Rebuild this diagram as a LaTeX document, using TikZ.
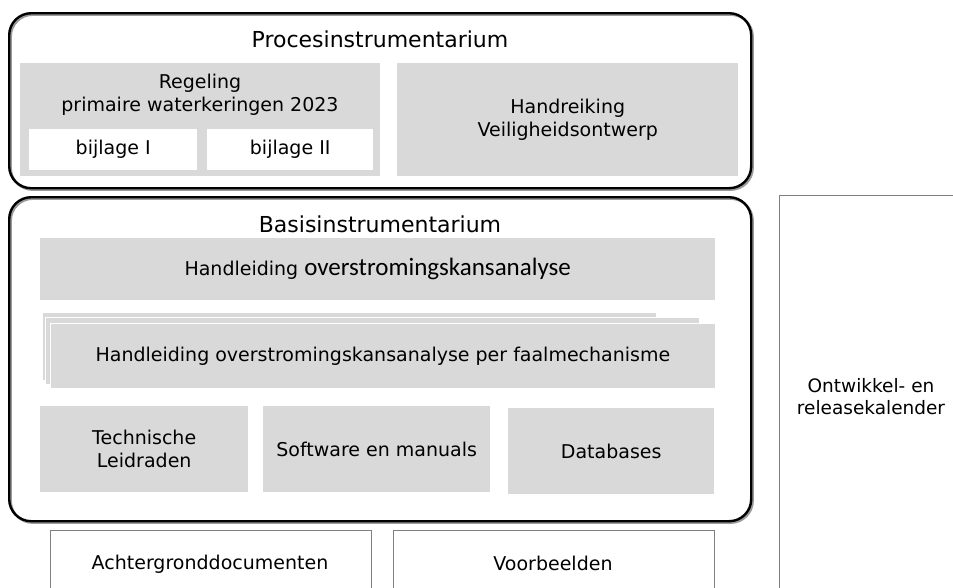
\documentclass[tikz,border=0pt]{standalone}
\usepackage{fontspec}
\setmainfont{DejaVu Sans}
\newfontfamily\carl{Carlito}
\definecolor{boxgray}{HTML}{D9D9D9}
\definecolor{linegray}{HTML}{808080}
\definecolor{shadowgray}{HTML}{9A9A9A}
\begin{document}
\begin{tikzpicture}[x=1pt,y=-1pt,
  outer/.style={draw=black, line width=2.4pt, rounded corners=22pt, anchor=north west, inner sep=0pt},
  outershadow/.style={draw=shadowgray, line width=2.4pt, rounded corners=22pt, anchor=north west, inner sep=0pt},
  graybox/.style={fill=boxgray, draw=none, anchor=north west, inner sep=0pt, align=center,
    font=\fontsize{19}{23}\selectfont},
  whitebox/.style={fill=white, draw=none, anchor=north west, inner sep=0pt, align=center,
    font=\fontsize{19}{23}\selectfont},
  thinbox/.style={fill=white, draw=linegray, line width=1.2pt, anchor=north west, inner sep=0pt, align=center,
    font=\fontsize{19}{23}\selectfont},
  title/.style={font=\fontsize{22}{26}\selectfont, anchor=base},
  txt/.style={font=\fontsize{19}{23}\selectfont, anchor=base, align=center}
]
\useasboundingbox (0,0) rectangle (953,587);
\clip (0,0) rectangle (953,587);
\fill[white] (0,0) rectangle (953,587);

% Procesinstrumentarium
\node[outershadow, minimum width=742pt, minimum height=175pt] (procs) at (9.5,13.5) {};
\node[outer, minimum width=742pt, minimum height=175pt] (proc) at (8,12) {};
\node[title] (proct) at (380,47) {Procesinstrumentarium};
\node[graybox, minimum width=360pt, minimum height=113pt] (reg) at (20,63) {};
\node[txt] (regt1) at (200,88) {Regeling};
\node[txt] (regt2) at (200,111) {primaire waterkeringen 2023};
\node[whitebox, minimum width=168pt, minimum height=41pt] (bij1) at (29,129) {bijlage I};
\node[whitebox, minimum width=166pt, minimum height=41pt] (bij2) at (207,129) {bijlage II};
\node[graybox, minimum width=341pt, minimum height=113pt] (hand) at (397,63) {Handreiking\\Veiligheidsontwerp};

% Basisinstrumentarium
\node[outershadow, minimum width=742pt, minimum height=324pt] (basiss) at (9.5,197.5) {};
\node[outer, minimum width=742pt, minimum height=324pt] (basis) at (8,196) {};
\node[title] (basist) at (380,232) {Basisinstrumentarium};
\node[graybox, minimum width=675pt, minimum height=62pt] (hok) at (40,238)
  {Handleiding {\carl\fontsize{25}{27}\selectfont overstromingskansanalyse}};
\node[graybox, minimum width=614pt, minimum height=68pt, draw=white, line width=0.8pt] (st1) at (42,312) {};
\node[graybox, minimum width=654pt, minimum height=67pt, draw=white, line width=0.8pt] (st2) at (45,317) {};
\node[graybox, minimum width=665pt, minimum height=65pt, draw=white, line width=0.8pt] (hokf) at (50,323)
  {Handleiding overstromingskansanalyse per faalmechanisme};
\node[graybox, minimum width=208pt, minimum height=86pt] (tech) at (40,406) {Technische\\Leidraden};
\node[graybox, minimum width=227pt, minimum height=86pt] (soft) at (263,406) {Software en manuals};
\node[graybox, minimum width=206pt, minimum height=86pt] (db) at (508,408) {Databases};

% Bottom boxes
\node[thinbox, minimum width=321pt, minimum height=80pt] (acht) at (50,530) {};
\node[txt] (achtt) at (210,569) {Achtergronddocumenten};
\node[thinbox, minimum width=321pt, minimum height=80pt] (voorb) at (393,530) {};
\node[txt] (voorbt) at (553,570) {Voorbeelden};

% Right box
\node[thinbox, minimum width=190pt, minimum height=420pt] (kal) at (779,195) {};
\node[txt, font=\fontsize{18.5}{22}\selectfont] (kalt1) at (871,392) {Ontwikkel- en};
\node[txt, font=\fontsize{18.5}{22}\selectfont] (kalt2) at (871,414) {releasekalender};
\end{tikzpicture}
\end{document}
